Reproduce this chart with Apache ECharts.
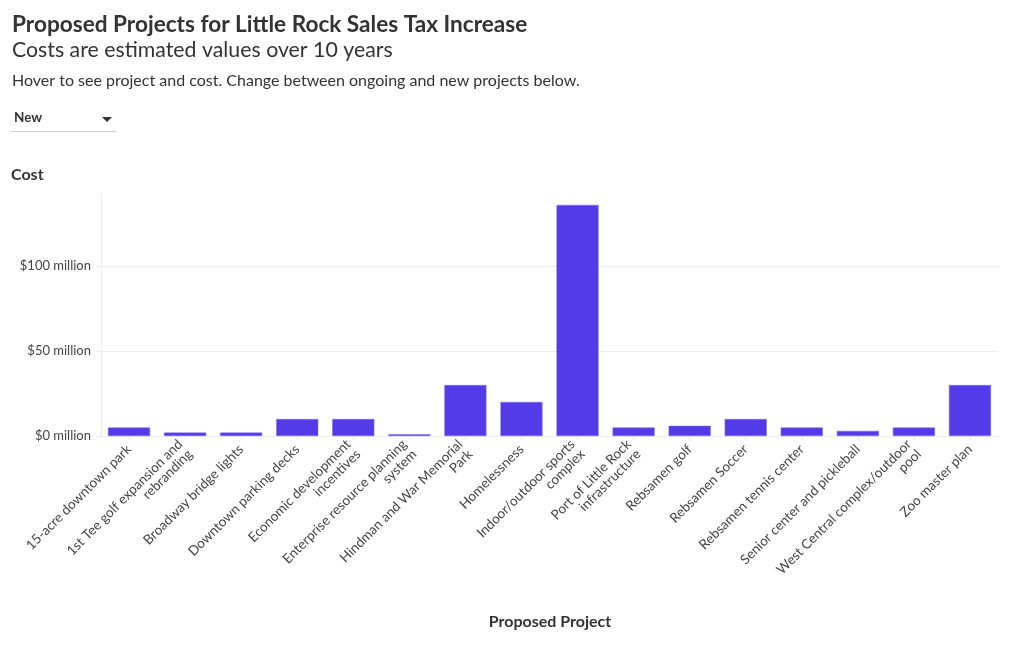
<!DOCTYPE html>
<html>
<head>
<meta charset="utf-8">
<script src="https://cdn.jsdelivr.net/npm/echarts@6/dist/echarts.min.js"></script>
<style>
html,body{margin:0;padding:0;background:#fff;}
#chart{width:1020px;height:650px;}
</style>
</head>
<body>
<div id="chart"></div>
<script>
const projects = [
  "15-acre downtown park",
  "1st Tee golf expansion and rebranding",
  "Broadway bridge lights",
  "Downtown parking decks",
  "Economic development incentives",
  "Enterprise resource planning system",
  "Hindman and War Memorial Park",
  "Homelessness",
  "Indoor/outdoor sports complex",
  "Port of Little Rock infrastructure",
  "Rebsamen golf",
  "Rebsamen Soccer",
  "Rebsamen tennis center",
  "Senior center and pickleball",
  "West Central complex/outdoor pool",
  "Zoo master plan"
];
const tickLabels = [
  "15-acre downtown park",
  "1st Tee golf expansion and\nrebranding",
  "Broadway bridge lights",
  "Downtown parking decks",
  "Economic development\nincentives",
  "Enterprise resource planning\nsystem",
  "Hindman and War Memorial\nPark",
  "Homelessness",
  "Indoor/outdoor sports\ncomplex",
  "Port of Little Rock\ninfrastructure",
  "Rebsamen golf",
  "Rebsamen Soccer",
  "Rebsamen tennis center",
  "Senior center and pickleball",
  "West Central complex/outdoor\npool",
  "Zoo master plan"
];
const costMillions = [5, 2, 2, 10, 10, 1, 30, 20, 136, 5, 6, 10, 5, 3, 5, 30];
const yTicks = [0, 50, 100];

const FONT = '"Source Sans Pro", Lato, "Noto Sans", sans-serif';
const chart = echarts.init(document.getElementById('chart'));
chart.setOption({
  animation: false,
  textStyle: {fontFamily: FONT},
  grid: {left: 101, right: 22, top: 193, bottom: 214, containLabel: false},
  graphic: [
    {type: 'text', left: 12, top: 13, style: {text: 'Proposed Projects for Little Rock Sales Tax Increase', font: 'bold 22.6px ' + FONT, fill: '#333'}},
    {type: 'text', left: 12, top: 40, style: {text: 'Costs are estimated values over 10 years', font: '21.3px ' + FONT, fill: '#333'}},
    {type: 'text', left: 12, top: 73, style: {text: 'Hover to see project and cost. Change between ongoing and new projects below.', font: '16px ' + FONT, fill: '#333'}},
    {type: 'text', left: 14, top: 111, style: {text: 'New', font: 'bold 13.5px ' + FONT, fill: '#333'}},
    {type: 'polygon', shape: {points: [[102, 117], [112, 117], [107, 122]]}, style: {fill: '#333'}},
    {type: 'line', shape: {x1: 11, y1: 131.5, x2: 116, y2: 131.5}, style: {stroke: '#ccc', lineWidth: 1}},
    {type: 'text', left: 11, top: 167, style: {text: 'Cost', font: 'bold 16px ' + FONT, fill: '#333'}},
    {type: 'text', x: 550, y: 614, style: {text: 'Proposed Project', font: 'bold 16px ' + FONT, fill: '#333', align: 'center'}}
  ],
  xAxis: {
    type: 'category',
    data: projects,
    axisLine: {show: true, lineStyle: {color: '#eee'}},
    axisTick: {show: true, alignWithLabel: true, length: 5, lineStyle: {color: '#eee'}},
    axisLabel: {
      interval: 0, rotate: 45, fontSize: 13.5, color: '#444', margin: 11,
      fontFamily: FONT, lineHeight: 14,
      formatter: (v, i) => tickLabels[i]
    }
  },
  yAxis: {
    type: 'value',
    min: 0, max: 143, interval: 50,
    axisLine: {show: true, lineStyle: {color: '#eee'}},
    axisTick: {show: true, length: 5, lineStyle: {color: '#eee'}},
    splitLine: {showMaxLine: false, lineStyle: {color: '#eee'}},
    axisLabel: {
      fontSize: 13, color: '#444', margin: 10, fontFamily: FONT,
      showMaxLabel: false,
      formatter: v => yTicks.includes(v) ? '$' + v + ' million' : ''
    }
  },
  series: [{
    type: 'bar',
    data: costMillions,
    barCategoryGap: '25%',
    itemStyle: {color: '#553be8', borderColor: '#7a66ee', borderWidth: 0.5}
  }]
});
</script>
</body>
</html>
